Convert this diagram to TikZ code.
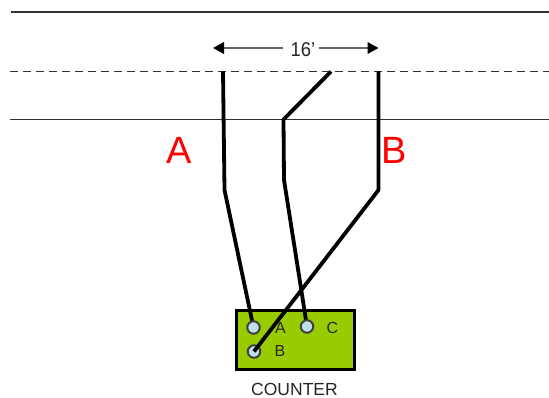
\documentclass[tikz,border=0pt]{standalone}
\usepackage{fontspec}
\setmainfont{Liberation Sans}
\usetikzlibrary{arrows.meta}
\definecolor{boxgreen}{RGB}{153,204,0}
\definecolor{termblue}{RGB}{190,222,232}
\definecolor{roadgray}{RGB}{50,50,50}
\begin{document}
\begin{tikzpicture}[x=1pt,y=-1pt,
  road/.style={draw=roadgray,line width=1.5pt},
  wire/.style={draw=black,line width=3.8pt,line join=round},
  term/.style={circle,draw=black!75,line width=2pt,fill=termblue,minimum size=12.5pt,inner sep=0pt},
  small/.style={font=\fontsize{16}{18}\selectfont,text=black!85,inner sep=0pt},
  big/.style={font=\fontsize{38}{40}\selectfont,text=red,inner sep=0pt},
  dim/.style={draw=black!60,line width=2pt,-{Triangle[length=11pt,width=11.5pt,color=black]}}]
\useasboundingbox (0,0) rectangle (549,398);
% roadway lines
\coordinate (t1) at (11,12); \coordinate (t2) at (549,12);
\coordinate (d1) at (10,71.5); \coordinate (d2) at (549,71.5);
\coordinate (b1) at (10,119.5); \coordinate (b2) at (549,119.5);
\draw[road] (t1) -- (t2);
\draw[road,dash pattern=on 8pt off 5pt] (d1) -- (d2);
\draw[road] (b1) -- (b2);
% counter
\node[draw=black,line width=2.4pt,fill=boxgreen,minimum width=118pt,minimum height=59pt,inner sep=0pt] (counter) at (295.5,340) {};
\node[term] (tb) at (254,351.5) {};
% wires
\coordinate (a0) at (223,71.5); \coordinate (a1) at (224.5,190);
\coordinate (c0) at (331,71.5); \coordinate (c1) at (283.5,119.5); \coordinate (c2) at (284,180);
\coordinate (b0) at (378.5,71.5); \coordinate (b3) at (378.5,190);
\coordinate (ta0) at (253.5,327.5); \coordinate (tc0) at (307,326.5);
\draw[wire] (a0) -- (a1) -- (ta0);
\draw[wire] (c0) -- (c1) -- (c2) -- (tc0);
\node[term] (ta) at (ta0) {};
\node[term] (tc) at (tc0) {};
\draw[wire] (b0) -- (b3) -- (tb.center);
\node[small] (la) at (280.5,327.5) {A};
\node[small] (lc) at (332.5,327.5) {C};
\node[small] (lb) at (280,350.5) {B};
\node[small,font=\fontsize{17.5}{20}\selectfont] (name) at (294.5,389) {COUNTER};
% dimension
\node[small,font=\fontsize{20}{22}\selectfont,xscale=.92] (dim) at (303,50) {16’};
\coordinate (dl) at (213,48); \coordinate (dr) at (378.5,48);
\coordinate (dls) at (283,48); \coordinate (drs) at (319,48);
\draw[dim] (dls) -- (dl);
\draw[dim] (drs) -- (dr);
% loop labels
\node[big] (ba) at (179.5,150) {A};
\node[big] (bb) at (394,150) {B};
\end{tikzpicture}
\end{document}
